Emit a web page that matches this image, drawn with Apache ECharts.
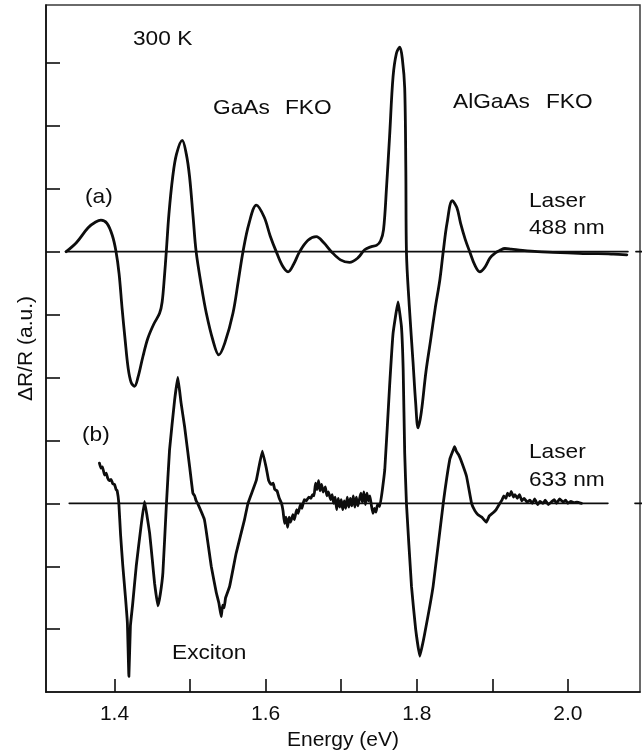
<!DOCTYPE html>
<html>
<head>
<meta charset="utf-8">
<script src="https://cdn.jsdelivr.net/npm/echarts@6/dist/echarts.min.js"></script>
<style>
  html, body { margin: 0; padding: 0; background: #ffffff; }
  #chart { width: 643px; height: 756px; }
</style>
</head>
<body>
<div id="chart"></div>
<script>
// Trace (a): laser 488 nm, photoreflectance in tick units relative to its own zero line
const energyA = [1.336, 1.350, 1.365, 1.375, 1.382, 1.390, 1.397, 1.402, 1.406, 1.410,
  1.414, 1.418, 1.422, 1.4265, 1.431, 1.4375, 1.444, 1.452, 1.4596, 1.463,
  1.466, 1.4685, 1.472, 1.477, 1.482, 1.4896, 1.495, 1.4993, 1.504, 1.508,
  1.515, 1.5215, 1.530, 1.538, 1.546, 1.5567, 1.564, 1.570, 1.578, 1.5877,
  1.598, 1.606, 1.614, 1.622, 1.6296, 1.637, 1.645, 1.656, 1.667, 1.677,
  1.687, 1.699, 1.711, 1.722, 1.731, 1.740, 1.7466, 1.752, 1.756, 1.760,
  1.764, 1.7686, 1.773, 1.7775, 1.781, 1.784, 1.7855, 1.7863, 1.790, 1.795,
  1.7985, 1.8017, 1.806, 1.812, 1.818, 1.8245, 1.8305, 1.835, 1.840, 1.847,
  1.853, 1.858, 1.864, 1.870, 1.877, 1.8834, 1.890, 1.897, 1.904, 1.910,
  1.9166, 1.925, 1.940, 1.960, 1.980, 2.000, 2.020, 2.040, 2.060, 2.078];
const signalA = [0, 0.15, 0.38, 0.47, 0.5, 0.45, 0.26, 0, -0.35, -0.9,
  -1.4, -1.85, -2.08, -2.14, -2.0, -1.67, -1.38, -1.15, -0.98, -0.8,
  -0.4, 0, 0.6, 1.19, 1.55, 1.77, 1.55, 1.19, 0.55, 0,
  -0.55, -0.98, -1.4, -1.64, -1.45, -0.98, -0.45, 0, 0.45, 0.74,
  0.55, 0.25, 0, -0.22, -0.32, -0.2, 0, 0.18, 0.24, 0.14,
  0, -0.13, -0.17, -0.1, 0.03, 0.08, 0.1, 0.17, 0.35, 1.03,
  1.83, 2.78, 3.15, 3.25, 3.05, 2.6, 1.3, 0, -0.85, -1.75,
  -2.4, -2.8, -2.55, -1.92, -1.43, -0.89, -0.45, 0, 0.45, 0.81,
  0.7, 0.45, 0.2, 0, -0.22, -0.32, -0.25, -0.1, -0.02, 0.02,
  0.05, 0.04, 0.02, 0.0, -0.01, -0.02, -0.03, -0.03, -0.04, -0.05];

// Trace (b): laser 633 nm, noisier measurement
const energyB = [1.380, 1.382, 1.384, 1.3868, 1.389, 1.391, 1.393, 1.3955, 1.3977, 1.400,
  1.402, 1.4035, 1.4057, 1.408, 1.411, 1.4145, 1.417, 1.419, 1.421, 1.424,
  1.4287, 1.435, 1.4397, 1.443, 1.4464, 1.450, 1.453, 1.4574, 1.4605, 1.464,
  1.4685, 1.4728, 1.4795, 1.4838, 1.488, 1.4927, 1.4993, 1.5037, 1.506, 1.508,
  1.510, 1.519, 1.528, 1.5347, 1.538, 1.540, 1.5413, 1.543, 1.545, 1.547,
  1.5523, 1.561, 1.572, 1.5766, 1.5877, 1.5956,
  1.601, 1.604, 1.607, 1.610, 1.612, 1.615, 1.618, 1.621, 1.623, 1.625,
  1.627, 1.629, 1.631, 1.633, 1.636, 1.638, 1.641, 1.643, 1.646, 1.648,
  1.651, 1.654, 1.657, 1.660, 1.662, 1.664, 1.666, 1.668, 1.670, 1.672,
  1.674, 1.676, 1.679, 1.681, 1.683, 1.686, 1.688, 1.690, 1.692, 1.694,
  1.696, 1.698, 1.700, 1.702, 1.704, 1.706, 1.708, 1.710, 1.712, 1.714,
  1.716, 1.718, 1.720, 1.722, 1.724, 1.726, 1.728, 1.730, 1.732, 1.734,
  1.736, 1.738, 1.740, 1.742, 1.744, 1.746, 1.748, 1.751,
  1.7576, 1.764, 1.7686, 1.7752, 1.7797, 1.782, 1.784, 1.7863, 1.793, 1.7985,
  1.804, 1.810, 1.8216, 1.835, 1.8437, 1.848, 1.850, 1.8526, 1.855, 1.858,
  1.8658, 1.8725, 1.877, 1.881, 1.886, 1.889, 1.892, 1.896, 1.901, 1.905,
  1.910, 1.913, 1.915, 1.918, 1.920, 1.923, 1.925, 1.928, 1.930, 1.933,
  1.936, 1.939, 1.942, 1.946, 1.9497, 1.953, 1.956, 1.960, 1.963, 1.967,
  1.970, 1.974, 1.978, 1.982, 1.985, 1.989, 1.994, 1.997, 2.000, 2.004,
  2.008, 2.012, 2.018];
const signalB = [0.64, 0.56, 0.58, 0.45, 0.48, 0.40, 0.36, 0.38, 0.31, 0.30,
  0.22, 0.20, 0, -0.5, -1.0, -1.5, -1.9, -2.75, -1.95, -1.6,
  -1.0, -0.37, 0.03, -0.2, -0.47, -0.9, -1.27, -1.63, -1.45, -1.1,
  -0.05, 0.85, 1.64, 2.0, 1.6, 1.22, 0.59, 0.16, 0.12, 0.04,
  0, -0.26, -1.0, -1.42, -1.58, -1.72, -1.8, -1.62, -1.66, -1.5,
  -1.32, -0.79, -0.26, 0, 0.37, 0.83,
  0.55, 0.36, 0.30, 0.32, 0.22, 0.20, 0.08, 0.00, -0.12, -0.32,
  -0.22, -0.38, -0.22, -0.30, -0.18, -0.26, -0.10, -0.16, -0.02, -0.08,
  0.06, 0.04, 0.10, 0.08, 0.14, 0.12, 0.32, 0.22, 0.36, 0.20,
  0.30, 0.18, 0.26, 0.12, 0.18, 0.06, 0.14, 0.00, 0.10, -0.10,
  0.08, -0.06, 0.06, -0.10, 0.04, -0.08, 0.10, -0.06, 0.08, -0.04,
  0.12, -0.06, 0.10, -0.04, 0.06, 0.16, 0.02, 0.18, -0.02, 0.16,
  0.04, 0.12, -0.04, -0.16, -0.08, -0.14, -0.02, -0.05,
  0.53, 1.86, 2.7, 3.2, 2.81, 2.12, 0.8, 0, -1.32, -2.0,
  -2.43, -2.1, -1.32, 0, 0.7, 0.84, 0.9, 0.82, 0.78, 0.7,
  0.43, 0, -0.12, -0.18, -0.22, -0.26, -0.3, -0.2, -0.15, -0.1,
  0, 0.06, 0.12, 0.08, 0.16, 0.12, 0.19, 0.1, 0.14, 0.08,
  0.14, 0.04, 0.08, 0.02, 0.05, 0.0, 0.07, -0.02, 0.03, 0.0,
  0.05, -0.02, 0.02, 0.06, 0.0, 0.07, 0.02, 0.05, 0.0, 0.03,
  0.01, 0.02, 0.0];

// Vertical placement of the two traces (in tick units)
const offsetA = 7;
const offsetB = 3;

// Zero lines: main segment plus a short dash at the right edge
const zeroA = [1.335, 2.0795];
const zeroDashA = [2.090, 2.100];
const zeroB = [1.340, 2.053];
const zeroDashB = [2.0887, 2.100];

// Axis ticks and labels
const xTicks = [1.4, 1.5, 1.6, 1.7, 1.8, 1.9, 2.0];
const xLabels = [1.4, 1.6, 1.8, 2.0];
const yTicks = [1, 2, 3, 4, 5, 6, 7, 8, 9, 10];

const INK = '#0d0d0d';
const FONT = '"Liberation Sans", Arial, Helvetica, sans-serif';

function pairs(xs, ys, off) {
  return xs.map((x, i) => [x, ys[i] + off]);
}
function hline(xs, y) {
  return xs.map(x => [x, y]);
}
function lineSeries(data, width, smooth, clip) {
  return {
    type: 'line',
    data: data,
    showSymbol: false,
    symbol: 'none',
    smooth: smooth,
    clip: clip,
    silent: true,
    animation: false,
    lineStyle: { color: INK, width: width, join: 'round', cap: 'round' }
  };
}
function label(text, x, y) {
  return {
    type: 'text',
    x: x,
    y: y,
    scaleX: 1.08,
    silent: true,
    style: {
      text: text,
      x: 0,
      y: 0,
      fill: INK,
      fontSize: 21,
      fontFamily: FONT,
      align: 'left',
      verticalAlign: 'middle'
    }
  };
}

const chart = echarts.init(document.getElementById('chart'), null, { renderer: 'canvas' });

chart.setOption({
  backgroundColor: '#ffffff',
  animation: false,
  grid: {
    left: 46, right: 3, top: 5, bottom: 62,
    show: true,
    borderColor: '#3a3a3a',
    borderWidth: 1.5,
    backgroundColor: 'transparent'
  },
  xAxis: {
    type: 'value',
    min: 1.3093,
    max: 2.0954,
    name: 'Energy (eV)',
    nameLocation: 'middle',
    nameGap: 36,
    nameTextStyle: { color: INK, fontSize: 21, fontFamily: FONT },
    axisLine: { show: true, lineStyle: { color: INK, width: 1.6 } },
    axisTick: {
      show: true, inside: true, length: 13,
      customValues: xTicks,
      lineStyle: { color: INK, width: 1.6 }
    },
    axisLabel: {
      show: true,
      customValues: xLabels,
      margin: 12,
      color: INK,
      fontSize: 21,
      fontFamily: FONT,
      formatter: v => Number(v).toFixed(1)
    },
    splitLine: { show: false }
  },
  yAxis: {
    type: 'value',
    min: 0,
    max: 10.92,
    name: 'ΔR/R (a.u.)',
    nameLocation: 'middle',
    nameRotate: 90,
    nameGap: 9,
    nameTextStyle: { color: INK, fontSize: 21, fontFamily: FONT },
    axisLine: { show: true, lineStyle: { color: INK, width: 1.6 } },
    axisTick: {
      show: true, inside: true, length: 14,
      customValues: yTicks,
      lineStyle: { color: INK, width: 1.6 }
    },
    axisLabel: { show: false },
    splitLine: { show: false }
  },
  series: [
    lineSeries(hline(zeroA, offsetA), 1.6, false, false),
    lineSeries(hline(zeroDashA, offsetA), 1.6, false, false),
    lineSeries(hline(zeroB, offsetB), 1.6, false, false),
    lineSeries(hline(zeroDashB, offsetB), 1.6, false, false),
    lineSeries(pairs(energyA, signalA, offsetA), 2.8, 0.35, true),
    lineSeries(pairs(energyB, signalB, offsetB), 2.8, 0.1, true)
  ],
  graphic: [
    label('300 K', 133, 39),
    label('GaAs', 213, 108),
    label('FKO', 285, 108),
    label('AlGaAs', 453, 102),
    label('FKO', 546, 102),
    label('(a)', 85, 197),
    label('Laser', 529, 201),
    label('488 nm', 529, 228),
    label('(b)', 82, 435),
    label('Laser', 529, 452),
    label('633 nm', 529, 480),
    label('Exciton', 172, 653)
  ]
});
</script>
</body>
</html>
